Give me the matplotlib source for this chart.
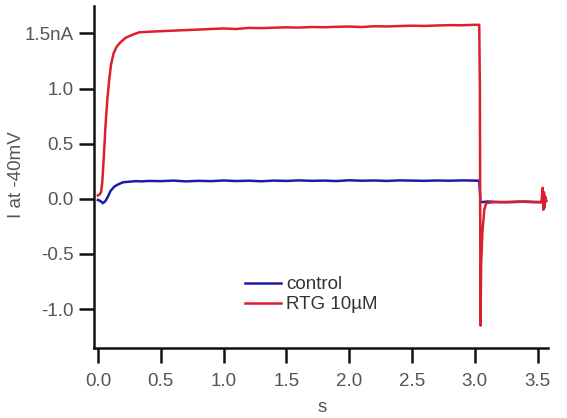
import numpy as np
import matplotlib
matplotlib.use("Agg")
import matplotlib.pyplot as plt

plt.rcParams['font.family'] = ['Liberation Sans', 'DejaVu Sans']

## dati (tempo in s, corrente in nA)
t_ctrl = [0.0, 0.02, 0.04, 0.06, 0.08, 0.10, 0.13, 0.16, 0.20, 0.25, 0.30, 0.35, 0.40,
          0.50, 0.60, 0.70, 0.80, 0.90, 1.00, 1.10, 1.20, 1.30, 1.40, 1.50, 1.60,
          1.70, 1.80, 1.90, 2.00, 2.10, 2.20, 2.30, 2.40, 2.50, 2.60, 2.70, 2.80,
          2.90, 3.00, 3.035, 3.045, 3.06, 3.10, 3.20, 3.30, 3.40, 3.50, 3.55]
i_ctrl = [-0.01, -0.02, -0.04, -0.02, 0.02, 0.07, 0.11, 0.13, 0.15, 0.155, 0.16, 0.158, 0.162,
          0.160, 0.165, 0.158, 0.163, 0.160, 0.166, 0.161, 0.164, 0.159, 0.165, 0.162, 0.167,
          0.163, 0.165, 0.161, 0.168, 0.164, 0.166, 0.162, 0.167, 0.165, 0.163, 0.166, 0.164,
          0.167, 0.165, 0.164, -0.03, -0.03, -0.025, -0.03, -0.03, -0.025, -0.03, -0.03]

t_rtg = [0.0, 0.015, 0.025, 0.035, 0.048, 0.06, 0.075, 0.09, 0.105, 0.125, 0.15, 0.18, 0.22,
         0.28, 0.33, 0.40, 0.50, 0.60, 0.70, 0.80, 0.90, 1.00, 1.10, 1.20, 1.30,
         1.40, 1.50, 1.60, 1.70, 1.80, 1.90, 2.00, 2.10, 2.20, 2.30, 2.40, 2.50,
         2.60, 2.70, 2.80, 2.90, 3.00, 3.035, 3.04, 3.045, 3.05, 3.06, 3.075, 3.09,
         3.15, 3.25, 3.35, 3.45, 3.53, 3.54, 3.545, 3.55, 3.555, 3.56, 3.57]
i_rtg = [0.03, 0.04, 0.06, 0.15, 0.40, 0.65, 0.90, 1.08, 1.22, 1.32, 1.38, 1.42, 1.46,
         1.49, 1.51, 1.515, 1.52, 1.525, 1.53, 1.535, 1.54, 1.545, 1.54, 1.55, 1.548,
         1.552, 1.555, 1.553, 1.558, 1.556, 1.56, 1.562, 1.558, 1.565, 1.563, 1.567, 1.57,
         1.568, 1.572, 1.575, 1.574, 1.578, 1.578, 1.0, -1.15, -0.60, -0.30, -0.10, -0.04,
         -0.03, -0.03, -0.025, -0.03, -0.03, 0.10, -0.10, 0.06, -0.08, 0.02, -0.02]

xticks = [0.0, 0.5, 1.0, 1.5, 2.0, 2.5, 3.0, 3.5]
xticklabels = ['0.0', '0.5', '1.0', '1.5', '2.0', '2.5', '3.0', '3.5']
yticks = [-1.0, -0.5, 0.0, 0.5, 1.0, 1.5]
yticklabels = ['-1.0', '-0.5', '0.0', '0.5', '1.0', '1.5nA']

col_ctrl = '#1c1ca6'
col_rtg = '#dc1f2c'
grigio = '#555555'
fs = 13.5

fig = plt.figure(figsize=(5.67, 4.18), dpi=100)
ax = fig.add_axes([0.166, 0.167, 0.800, 0.819])

ax.plot(t_ctrl, i_ctrl, color=col_ctrl, lw=1.8, label='control')
ax.plot(t_rtg, i_rtg, color=col_rtg, lw=1.8, label='RTG 10µM')

ax.set_xlim(-0.03, 3.58)
ax.set_ylim(-1.355, 1.75)

ax.spines['top'].set_visible(False)
ax.spines['right'].set_visible(False)
for s in ['left', 'bottom']:
    ax.spines[s].set_linewidth(1.8)
    ax.spines[s].set_color('#111111')

ax.set_xticks(xticks)
ax.set_xticklabels(xticklabels)
ax.set_yticks(yticks)
ax.set_yticklabels(yticklabels)
ax.tick_params(direction='out', length=11, width=1.8, colors='#111111',
               labelcolor=grigio, labelsize=fs)
ax.tick_params(axis='x', pad=7)
ax.tick_params(axis='y', pad=3.5)

ax.set_xlabel('s', color=grigio, fontsize=fs)
ax.xaxis.set_label_coords(0.503, -0.148)
ax.set_ylabel('I at -40mV', color=grigio, fontsize=fs)
ax.yaxis.set_label_coords(-0.152, 0.506)

leg = ax.legend(frameon=False, loc='upper left', bbox_to_anchor=(0.333, 0.21),
                borderpad=0, borderaxespad=0, handlelength=1.9, handletextpad=0.3,
                labelspacing=0.14, fontsize=fs)
for txt in leg.get_texts():
    txt.set_color('#333333')

fig.savefig('out.png', dpi=100)
